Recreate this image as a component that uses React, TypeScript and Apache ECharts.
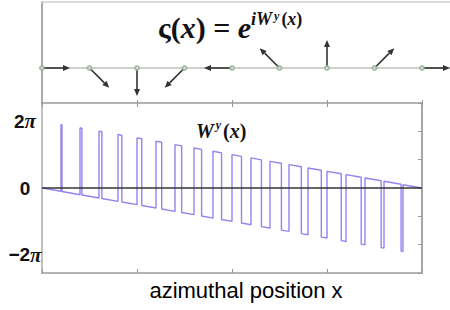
import React, { useEffect, useRef } from 'react';
import * as echarts from 'echarts';

const PI = Math.PI;

// Top panel: phasor base positions (x) and their directions (degrees)
const phasorX = [0, 0.5, 1, 1.5, 2, 2.5, 3, 3.5, 4];
const phasorAngle = [0, -45, -90, -135, 180, 135, 90, 45, 0];

// Bottom panel: W^y(x)
const startPoint = [0, 0];
const riseX = [0.2, 0.4, 0.6, 0.8, 1.0, 1.2, 1.4, 1.6, 1.8, 2.0, 2.2, 2.4, 2.6, 2.8, 3.0, 3.2, 3.4, 3.6, 3.8];
const riseLow = [-0.31, -0.63, -0.94, -1.26, -1.57, -1.88, -2.2, -2.51, -2.83, -3.14, -3.46, -3.77, -4.08, -4.4, -4.71, -5.03, -5.34, -5.65, -5.97];
const riseHigh = [5.97, 5.65, 5.34, 5.03, 4.71, 4.4, 4.08, 3.77, 3.46, 3.14, 2.83, 2.51, 2.2, 1.88, 1.57, 1.26, 0.94, 0.63, 0.31];
const fallX = [0.21, 0.42, 0.63, 0.84, 1.05, 1.26, 1.47, 1.68, 1.89, 2.1, 2.31, 2.52, 2.73, 2.94, 3.15, 3.36, 3.57, 3.78];
const fallHigh = [5.95, 5.62, 5.29, 4.96, 4.63, 4.3, 3.97, 3.64, 3.31, 2.98, 2.65, 2.33, 2.0, 1.67, 1.34, 1.01, 0.68, 0.35];
const fallLow = [-0.33, -0.66, -0.99, -1.32, -1.65, -1.98, -2.31, -2.64, -2.97, -3.3, -3.63, -3.96, -4.29, -4.62, -4.95, -5.28, -5.61, -5.94];
const endPoint = [4, 0];

// Tick labels on the left axis
const yLabelValues = [-2 * PI, 0, 2 * PI];
const yLabelNum = ['−2', '0', '2'];
const yLabelPi = ['π', '', 'π'];

const X_MAX_TOP = (4 * 408) / 380;

function buildCurve() {
  const pts: number[][] = [startPoint];
  for (let k = 0; k < riseX.length; k++) {
    pts.push([riseX[k], riseLow[k]]);
    pts.push([riseX[k], riseHigh[k]]);
    if (k < fallX.length) {
      pts.push([fallX[k], fallHigh[k]]);
      pts.push([fallX[k], fallLow[k]]);
    }
  }
  pts.push(endPoint);
  return pts;
}

const serif = 'Liberation Serif';
const sans = 'Liberation Sans';

function buildOption() {
  const curve = buildCurve();
  return {
    animation: false,
    backgroundColor: '#ffffff',
    grid: [
      { left: 42, top: 2, width: 408, height: 101, show: false },
      { left: 42, top: 103, width: 380, height: 170, show: false },
    ],
    xAxis: [
      {
        gridIndex: 0, type: 'value', min: 0, max: X_MAX_TOP, position: 'top',
        axisLine: { show: true, onZero: false, lineStyle: { color: '#cfcfcf', width: 1.5 } },
        axisTick: { show: false }, axisLabel: { show: false }, splitLine: { show: false },
      },
      {
        gridIndex: 0, type: 'value', min: 0, max: X_MAX_TOP, position: 'bottom',
        axisLine: { show: false, onZero: false },
        axisTick: { show: true, inside: true, length: 3, customValues: [1, 2, 3, 4], lineStyle: { color: '#999', width: 1 } },
        axisLabel: { show: false }, splitLine: { show: false },
      },
      {
        gridIndex: 1, type: 'value', min: 0, max: 4, interval: 1, position: 'bottom',
        axisLine: { show: true, onZero: false, lineStyle: { color: '#9a9a9a', width: 1.5 } },
        axisTick: { show: true, inside: true, length: 4, lineStyle: { color: '#9a9a9a', width: 1 } },
        axisLabel: { show: false }, splitLine: { show: false },
        name: 'azimuthal position x', nameLocation: 'middle', nameGap: 6,
        nameTextStyle: { fontFamily: sans, fontSize: 22, color: '#000', padding: [0, 0, 0, 28] },
      },
      {
        gridIndex: 1, type: 'value', min: 0, max: 4, interval: 1, position: 'top',
        axisLine: { show: true, onZero: false, lineStyle: { color: '#9a9a9a', width: 1.5 } },
        axisTick: { show: true, inside: true, length: 4, lineStyle: { color: '#9a9a9a', width: 1 } },
        axisLabel: { show: false }, splitLine: { show: false },
      },
    ],
    yAxis: [
      {
        gridIndex: 0, type: 'value', min: -35, max: 66, position: 'left',
        axisLine: { show: true, onZero: false, lineStyle: { color: '#aaaaaa', width: 2 } },
        axisTick: { show: false }, axisLabel: { show: false }, splitLine: { show: false },
      },
      {
        gridIndex: 1, type: 'value', min: -8, max: 8, position: 'left',
        axisLine: { show: true, onZero: false, lineStyle: { color: '#aaaaaa', width: 1.5 } },
        axisTick: { show: false }, splitLine: { show: false },
        axisLabel: {
          show: true, customValues: yLabelValues, margin: 17, align: 'center',
          formatter: (v: number) => {
            let idx = 0;
            for (let i = 0; i < yLabelValues.length; i++) if (Math.abs(v - yLabelValues[i]) < 1e-6) idx = i;
            return yLabelPi[idx] ? `{n|${yLabelNum[idx]}}{p|${yLabelPi[idx]}}` : `{n|${yLabelNum[idx]}}`;
          },
          rich: {
            n: { fontFamily: sans, fontWeight: 'bold', fontSize: 19, color: '#111' },
            p: { fontFamily: serif, fontWeight: 'bold', fontStyle: 'italic', fontSize: 21, color: '#111' },
          },
        },
      },
      {
        gridIndex: 1, type: 'value', min: -8, max: 8, interval: 8 / 3, position: 'right',
        axisLine: { show: true, onZero: false, lineStyle: { color: '#8a8a8a', width: 1.5 } },
        axisTick: { show: true, inside: true, length: 4, lineStyle: { color: '#9a9a9a', width: 1 } },
        axisLabel: { show: false }, splitLine: { show: false },
      },
    ],
    graphic: [
      {
        type: 'text', left: 158, top: 10, z: 10,
        style: {
          text: '{m|ς(}{mi|x}{m|) = }{mi|e}{si|iW}{ss|y}{s|(}{si|x}{s|)}',
          rich: {
            m: { fontFamily: serif, fontWeight: 'bold', fontSize: 30, lineHeight: 32, verticalAlign: 'bottom', fill: '#111' },
            mi: { fontFamily: serif, fontWeight: 'bold', fontStyle: 'italic', fontSize: 30, lineHeight: 32, verticalAlign: 'bottom', fill: '#111' },
            si: { fontFamily: serif, fontWeight: 'bold', fontStyle: 'italic', fontSize: 18, lineHeight: 19, verticalAlign: 'top', fill: '#111' },
            s: { fontFamily: serif, fontWeight: 'bold', fontSize: 18, lineHeight: 19, verticalAlign: 'top', fill: '#111' },
            ss: { fontFamily: serif, fontWeight: 'bold', fontStyle: 'italic', fontSize: 12, lineHeight: 12, verticalAlign: 'top', fill: '#111', padding: [0, 2, 0, 2] },
          },
        },
      },
      {
        type: 'text', left: 196, top: 119, z: 10,
        style: {
          text: '{w|W}{ss|y}{s|(}{w|x}{s|)}',
          rich: {
            w: { fontFamily: serif, fontWeight: 'bold', fontStyle: 'italic', fontSize: 20, lineHeight: 22, verticalAlign: 'bottom', fill: '#111' },
            s: { fontFamily: serif, fontWeight: 'bold', fontSize: 20, lineHeight: 22, verticalAlign: 'bottom', fill: '#111' },
            ss: { fontFamily: serif, fontWeight: 'bold', fontStyle: 'italic', fontSize: 12, lineHeight: 12, verticalAlign: 'top', fill: '#111', padding: [0, 2, 0, 2] },
          },
        },
      },
    ],
    series: [
      {
        type: 'line', xAxisIndex: 0, yAxisIndex: 0, z: 1, clip: false,
        data: [[0, 0], [X_MAX_TOP, 0]], showSymbol: false, symbol: 'none',
        lineStyle: { color: '#a0a0a0', width: 1 },
      },
      {
        type: 'custom', xAxisIndex: 0, yAxisIndex: 0, z: 2, clip: false,
        data: phasorX.map((x, i) => [x, 0, phasorAngle[i]]),
        renderItem: (params: any, api: any) => {
          const p = api.coord([api.value(0), api.value(1)]);
          const a = (api.value(2) * PI) / 180;
          const L = 28, h = 7, w = 3;
          const dx = Math.cos(a), dy = -Math.sin(a);
          const tip = [p[0] + L * dx, p[1] + L * dy];
          const bx = tip[0] - h * dx, by = tip[1] - h * dy;
          return {
            type: 'group',
            children: [
              { type: 'line', shape: { x1: p[0], y1: p[1], x2: bx, y2: by }, style: { stroke: '#333', lineWidth: 1.6 } },
              { type: 'polygon', shape: { points: [tip, [bx - w * dy, by + w * dx], [bx + w * dy, by - w * dx]] }, style: { fill: '#333' } },
            ],
          };
        },
      },
      {
        type: 'scatter', xAxisIndex: 0, yAxisIndex: 0, z: 3,
        data: phasorX.map((x) => [x, 0]), symbol: 'emptyCircle', symbolSize: 4,
        itemStyle: { color: '#9aab9a', borderColor: '#9aab9a', borderWidth: 1 },
      },
      {
        type: 'line', xAxisIndex: 2, yAxisIndex: 1, z: 2, data: curve, showSymbol: false, symbol: 'none',
        lineStyle: { color: '#9384f2', width: 1.4 },
      },
      {
        type: 'line', xAxisIndex: 2, yAxisIndex: 1, z: 3, data: [[0, 0], [4, 0]], showSymbol: false, symbol: 'none',
        lineStyle: { color: '#333', width: 1.5 },
      },
    ],
  };
}

export default function App() {
  const ref = useRef<HTMLDivElement>(null);
  useEffect(() => {
    const chart = echarts.init(ref.current!, null, { renderer: 'svg' });
    chart.setOption(buildOption() as any);
    return () => chart.dispose();
  }, []);
  return (
    <div
      ref={ref}
      style={{ position: 'absolute', left: 0, top: 0, width: 450, height: 310, background: '#fff' }}
    />
  );
}
